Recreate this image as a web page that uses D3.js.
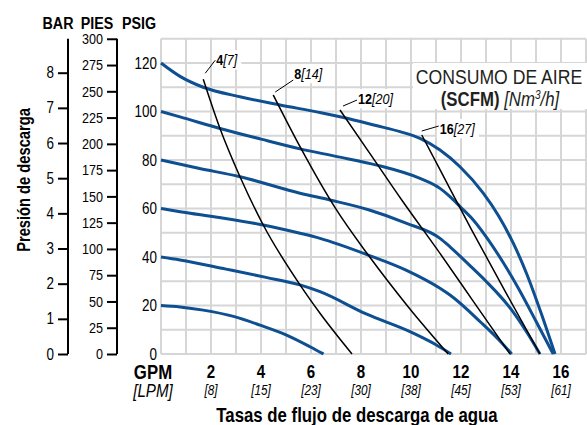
<!DOCTYPE html>
<html>
<head>
<meta charset="utf-8">
<script src="https://cdn.jsdelivr.net/npm/d3@7"></script>
<style>
  body { margin: 0; background: #fff; }
  svg { display: block; }
</style>
</head>
<body>
<svg width="587" height="425"></svg>
<script>
// tick values
var gpmTicks = [2, 4, 6, 8, 10, 12, 14, 16];
var lpmLabels = ["[8]", "[15]", "[23]", "[30]", "[38]", "[45]", "[53]", "[61]"];
var psigTicks = [0, 20, 40, 60, 80, 100, 120];
var barTicks = [0, 1, 2, 3, 4, 5, 6, 7, 8];
var piesTicks = [0, 25, 50, 75, 100, 125, 150, 175, 200, 225, 250, 275, 300];

// discharge pressure curves at constant air inlet pressure [gpm, psig]
var psi120 = [[0,120],[0.76,114.5],[1.69,110],[3.2,106],[4.76,102.7],[6.4,99.5],[7.3,97.5],[8.6,94.2],[9.56,91.7],[10.36,88.9],[11.16,84.1],[11.96,77.2],[12.89,66.3],[13.5,57],[14.1,45.5],[14.63,33],[15.2,17],[15.76,0]];
var psi100 = [[0,100],[0.76,97.8],[2.36,93],[4,88.6],[5.56,84.6],[7,81.5],[8.63,77.9],[10.36,72.4],[11.16,68.3],[11.56,64.9],[11.96,60.8],[12.49,55.3],[13.1,47],[13.7,37.5],[14.3,27],[15.0,13.5],[15.69,0]];
var psi80 = [[0,80],[1.5,76.6],[3.16,73.1],[5.56,66.3],[6.76,63.5],[8.3,59.5],[9.8,54],[11.16,47.7],[11.56,44.2],[12.4,36],[13,30],[14,18.5],[14.6,9.5],[15.16,0]];
var psi60 = [[0,60],[0.76,58.7],[2.4,56.2],[4.09,53.2],[5.56,49.8],[6.36,47.7],[8.29,40.8],[9.8,34.6],[11.16,27.1],[11.56,24.3],[12.8,13],[13.5,6],[14.03,0]];
var psi40 = [[0,40],[0.76,38.8],[2.6,35],[4.2,31.6],[5.56,28.5],[6.36,25.7],[8.23,16.4],[9.96,9.2],[11,3.8],[11.6,0]];
var psi20 = [[0,20],[0.76,19.4],[1.69,18.1],[2.9,15.5],[3.96,11.9],[5.0,7.9],[5.96,3.0],[6.5,0]];

// air consumption curves [gpm, psig]
var scfm4 = [[1.69,113.3],[2.36,93],[3.16,73.1],[4.09,53.2],[5.56,28.5],[6.36,16.8],[7.64,0]];
var scfm8 = [[4.49,106.8],[5.56,85.5],[7.02,59.4],[8.29,40.8],[9.9,19.3],[11.49,0]];
var scfm12 = [[7.16,100.6],[8.4,82],[9.63,63.5],[11.16,41.5],[12.5,21.6],[13.96,0]];
var scfm16 = [[10.43,90.3],[11.16,76],[12.43,51.1],[13.8,25.2],[15.16,0]];

var airCurves = [psi120, psi100, psi80, psi60, psi40, psi20];
var scfmCurves = [scfm4, scfm8, scfm12, scfm16];
var scfmValues = ["4", "8", "12", "16"];
var nm3Values = ["[7]", "[14]", "[20]", "[27]"];

// label leader offsets from the start of each black line (layout only)
var leaderLayout = [
  {x1: 2, y1: -6, x2: 12, y2: -19, tx: 13, ty: -14},
  {x1: 2, y1: -3, x2: 20, y2: -15, tx: 21, ty: -16},
  {x1: 3, y1: -4, x2: 17, y2: -10, tx: 18, ty: -6},
  {x1: 0, y1: -4, x2: 17, y2: -9, tx: 18, ty: -1}
];

var FONT = "'Liberation Sans', Arial, sans-serif";
var BLUE = "#0d4f91";
var K = 0.84; // horizontal squeeze to get a condensed look

// squeeze a text horizontally around its anchor x
function squeeze(sel) {
  sel.each(function() {
    var t = d3.select(this);
    var ax = +t.attr("x") || 0;
    t.attr("transform", "translate(" + ax + ",0) scale(" + K + ",1) translate(" + (-ax) + ",0)");
  });
}

var svg = d3.select("svg")
    .style("font-family", FONT);

var x = d3.scaleLinear().domain([0, 17]).range([161, 586]);
var y = d3.scaleLinear().domain([0, 130]).range([354, 38.75]);

// grid
var grid = svg.append("g");
grid.selectAll("line.v")
    .data(d3.range(0, 18))
    .join("line")
    .attr("class", "v")
    .attr("x1", d => x(d)).attr("x2", d => x(d))
    .attr("y1", y(130)).attr("y2", y(0))
    .attr("stroke", "#d6d6d6")
    .attr("stroke-width", 2);
grid.selectAll("line.h")
    .data(d3.range(0, 140, 10))
    .join("line")
    .attr("class", "h")
    .attr("x1", x(0)).attr("x2", x(17))
    .attr("y1", d => y(d)).attr("y2", d => y(d))
    .attr("stroke", "#d6d6d6")
    .attr("stroke-width", 2);

// legend box
svg.append("rect")
    .attr("x", 413).attr("y", 63)
    .attr("width", 174).attr("height", 46)
    .attr("fill", "#fff");

var leg1 = svg.append("text")
    .attr("x", 499).attr("y", 84)
    .attr("text-anchor", "middle")
    .attr("font-size", 21)
    .attr("fill", "#231f20")
    .text("CONSUMO DE AIRE");
var leg2 = svg.append("text")
    .attr("x", 500).attr("y", 106)
    .attr("text-anchor", "middle")
    .attr("font-size", 20)
    .attr("fill", "#231f20");
leg2.append("tspan").attr("font-weight", "bold").text("(SCFM) ");
leg2.append("tspan").attr("font-style", "italic").text("[Nm");
leg2.append("tspan").attr("font-style", "italic").attr("font-size", 12).attr("dy", -7).text("3");
leg2.append("tspan").attr("font-style", "italic").attr("dy", 7).text("/h]");
squeeze(leg1);
squeeze(leg2);

// curves
var line = d3.line()
    .x(d => x(d[0]))
    .y(d => y(d[1]))
    .curve(d3.curveMonotoneX);

svg.append("g")
    .selectAll("path")
    .data(airCurves)
    .join("path")
    .attr("d", line)
    .attr("fill", "none")
    .attr("stroke", BLUE)
    .attr("stroke-width", 3);

svg.append("g")
    .selectAll("path")
    .data(scfmCurves)
    .join("path")
    .attr("d", line)
    .attr("fill", "none")
    .attr("stroke", "#000")
    .attr("stroke-width", 1.5);

// black line labels
var labels = svg.append("g");
scfmCurves.forEach(function(c, i) {
  var sx = x(c[0][0]), sy = y(c[0][1]);
  var lay = leaderLayout[i];
  var t = labels.append("text")
      .attr("x", sx + lay.tx)
      .attr("y", sy + lay.ty)
      .attr("font-size", 15);
  t.append("tspan").attr("font-weight", "bold").text(scfmValues[i]);
  t.append("tspan").attr("font-style", "italic").text(nm3Values[i]);
  squeeze(t);
  var bb = t.node().getBoundingClientRect();
  labels.insert("rect", "text")
      .attr("x", bb.left - 3).attr("y", bb.top - 1)
      .attr("width", bb.width + 6).attr("height", bb.height + 2)
      .attr("fill", "#fff");
  labels.append("line")
      .attr("x1", sx + lay.x1).attr("y1", sy + lay.y1)
      .attr("x2", sx + lay.x2).attr("y2", sy + lay.y2)
      .attr("stroke", "#000")
      .attr("stroke-width", 1);
});

// psig labels
svg.append("g")
    .selectAll("text")
    .data(psigTicks)
    .join("text")
    .attr("x", 157)
    .attr("y", d => y(d) + 6)
    .attr("text-anchor", "end")
    .attr("font-size", 16)
    .text(d => d)
    .call(squeeze);

// pies axis
var piesAxis = d3.axisLeft(d3.scaleLinear().domain([0, 300]).range([y(0), y(300 * 0.4333)]))
    .tickValues(piesTicks)
    .tickSize(10)
    .tickPadding(4);
var pg = svg.append("g")
    .attr("transform", "translate(117,0)")
    .call(piesAxis);
pg.select(".domain").attr("stroke-width", 2).attr("d", "M0," + y(300 * 0.4333) + "V" + y(0));
pg.selectAll(".tick line").attr("stroke-width", 2);
pg.selectAll(".tick text").attr("font-size", 15).attr("font-family", FONT).attr("fill", "#000").call(squeeze);

// bar axis
var barAxis = d3.axisLeft(d3.scaleLinear().domain([0, 8]).range([y(0), y(8 * 14.5)]))
    .tickValues(barTicks)
    .tickSize(10)
    .tickPadding(4);
var bg = svg.append("g")
    .attr("transform", "translate(68,0)")
    .call(barAxis);
bg.select(".domain").attr("stroke-width", 2).attr("d", "M0," + y(300 * 0.4333) + "V" + y(0));
bg.selectAll(".tick line").attr("stroke-width", 2);
bg.selectAll(".tick text").attr("font-size", 16).attr("font-family", FONT).attr("fill", "#000").call(squeeze);

// axis headers
svg.append("g")
    .selectAll("text")
    .data([["BAR", 58], ["PIES", 97], ["PSIG", 139]])
    .join("text")
    .attr("x", d => d[1])
    .attr("y", 29)
    .attr("text-anchor", "middle")
    .attr("font-size", 17)
    .attr("font-weight", "bold")
    .text(d => d[0])
    .call(squeeze);

// x tick labels
svg.append("g")
    .selectAll("text")
    .data(gpmTicks)
    .join("text")
    .attr("x", d => x(d))
    .attr("y", 378)
    .attr("text-anchor", "middle")
    .attr("font-size", 18)
    .attr("font-weight", "bold")
    .text(d => d)
    .call(squeeze);
svg.append("g")
    .selectAll("text")
    .data(gpmTicks)
    .join("text")
    .attr("x", d => x(d))
    .attr("y", 395)
    .attr("text-anchor", "middle")
    .attr("font-size", 14)
    .attr("font-style", "italic")
    .text((d, i) => lpmLabels[i])
    .call(squeeze);

svg.append("text")
    .attr("x", 153).attr("y", 379)
    .attr("text-anchor", "middle")
    .attr("font-size", 20)
    .attr("font-weight", "bold")
    .text("GPM")
    .call(squeeze);
svg.append("text")
    .attr("x", 153).attr("y", 397)
    .attr("text-anchor", "middle")
    .attr("font-size", 18)
    .attr("font-style", "italic")
    .text("[LPM]")
    .call(squeeze);

// axis titles
svg.append("text")
    .attr("x", 357).attr("y", 422)
    .attr("text-anchor", "middle")
    .attr("font-size", 20)
    .attr("font-weight", "bold")
    .text("Tasas de flujo de descarga de agua")
    .call(squeeze);

svg.append("text")
    .attr("transform", "translate(30,180) rotate(-90) scale(" + K + ",1)")
    .attr("text-anchor", "middle")
    .attr("font-size", 17.5)
    .attr("font-weight", "bold")
    .text("Presión de descarga");
</script>
</body>
</html>
